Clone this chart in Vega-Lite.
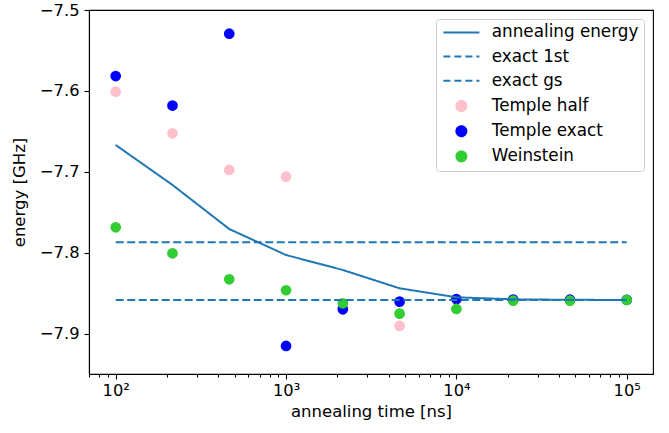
{
  "$schema": "https://vega.github.io/schema/vega-lite/v6.json",
  "width": 564,
  "height": 364,
  "autosize": {"type": "none"},
  "padding": {"left": 89, "top": 10, "right": 16, "bottom": 59},
  "background": "white",
  "config": {
    "font": "DejaVu Sans",
    "view": {"stroke": "black", "strokeWidth": 1.1},
    "axis": {
      "grid": false,
      "domainColor": "black",
      "domainWidth": 1.1,
      "tickColor": "black",
      "tickWidth": 1.1,
      "labelColor": "black",
      "titleColor": "black",
      "labelFont": "DejaVu Sans",
      "titleFont": "DejaVu Sans",
      "labelFontSize": 16.3,
      "titleFontSize": 16.5,
      "titleFontWeight": "normal"
    },
    "legend": {
      "labelFont": "DejaVu Sans",
      "labelFontSize": 16.8,
      "labelColor": "black"
    }
  },
  "data": {
    "values": [
      {"series": "Temple half", "t": 100, "e": -7.6009},
      {"series": "Temple half", "t": 215.443, "e": -7.6522},
      {"series": "Temple half", "t": 464.159, "e": -7.6975},
      {"series": "Temple half", "t": 1000, "e": -7.7058},
      {"series": "Temple half", "t": 2154.43, "e": -7.866},
      {"series": "Temple half", "t": 4641.59, "e": -7.890},
      {"series": "Temple half", "t": 10000, "e": -7.858},
      {"series": "Temple half", "t": 21544.3, "e": -7.858},
      {"series": "Temple half", "t": 46415.9, "e": -7.858},
      {"series": "Temple half", "t": 100000, "e": -7.858},
      {"series": "Temple exact", "t": 100, "e": -7.5815},
      {"series": "Temple exact", "t": 215.443, "e": -7.618},
      {"series": "Temple exact", "t": 464.159, "e": -7.5293},
      {"series": "Temple exact", "t": 1000, "e": -7.9148},
      {"series": "Temple exact", "t": 2154.43, "e": -7.8695},
      {"series": "Temple exact", "t": 4641.59, "e": -7.860},
      {"series": "Temple exact", "t": 10000, "e": -7.8568},
      {"series": "Temple exact", "t": 21544.3, "e": -7.8575},
      {"series": "Temple exact", "t": 46415.9, "e": -7.8577},
      {"series": "Temple exact", "t": 100000, "e": -7.8578},
      {"series": "Weinstein", "t": 100, "e": -7.7683},
      {"series": "Weinstein", "t": 215.443, "e": -7.8004},
      {"series": "Weinstein", "t": 464.159, "e": -7.8325},
      {"series": "Weinstein", "t": 1000, "e": -7.846},
      {"series": "Weinstein", "t": 2154.43, "e": -7.8621},
      {"series": "Weinstein", "t": 4641.59, "e": -7.8749},
      {"series": "Weinstein", "t": 10000, "e": -7.8691},
      {"series": "Weinstein", "t": 21544.3, "e": -7.8589},
      {"series": "Weinstein", "t": 46415.9, "e": -7.8589},
      {"series": "Weinstein", "t": 100000, "e": -7.858},
      {"series": "annealing energy", "t": 100, "e": -7.6667},
      {"series": "annealing energy", "t": 215.443, "e": -7.716},
      {"series": "annealing energy", "t": 464.159, "e": -7.7704},
      {"series": "annealing energy", "t": 1000, "e": -7.8025},
      {"series": "annealing energy", "t": 2154.43, "e": -7.821},
      {"series": "annealing energy", "t": 4641.59, "e": -7.8436},
      {"series": "annealing energy", "t": 10000, "e": -7.8547},
      {"series": "annealing energy", "t": 21544.3, "e": -7.8572},
      {"series": "annealing energy", "t": 46415.9, "e": -7.8578},
      {"series": "annealing energy", "t": 100000, "e": -7.858},
      {"series": "exact 1st", "t": 100, "e": -7.7868},
      {"series": "exact 1st", "t": 100000, "e": -7.7868},
      {"series": "exact gs", "t": 100, "e": -7.858},
      {"series": "exact gs", "t": 100000, "e": -7.858}
    ]
  },
  "encoding": {
    "x": {
      "field": "t",
      "type": "quantitative",
      "title": "annealing time [ns]",
      "scale": {"type": "log", "domain": [69.7, 142600], "nice": false, "zero": false},
      "axis": {
        "values": [70, 80, 90, 100, 200, 300, 400, 500, 600, 700, 800, 900, 1000, 2000, 3000, 4000, 5000, 6000, 7000, 8000, 9000, 10000, 20000, 30000, 40000, 50000, 60000, 70000, 80000, 90000, 100000],
        "labelExpr": "datum.value == 100 ? '10²' : datum.value == 1000 ? '10³' : datum.value == 10000 ? '10⁴' : datum.value == 100000 ? '10⁵' : ''",
        "labelOverlap": false,
        "labelFlush": false,
        "tickSize": {"condition": {"test": "indexof([100, 1000, 10000, 100000], datum.value) >= 0", "value": 5}, "value": 3},
        "labelPadding": 3,
        "titlePadding": 5
      }
    },
    "y": {
      "field": "e",
      "type": "quantitative",
      "title": "energy [GHz]",
      "scale": {"domain": [-7.9494, -7.5], "nice": false, "zero": false},
      "axis": {
        "values": [-7.5, -7.6, -7.7, -7.8, -7.9],
        "format": ".1f",
        "tickSize": 5,
        "labelPadding": 5,
        "titlePadding": 12
      }
    },
    "color": {
      "field": "series",
      "type": "nominal",
      "scale": {
        "domain": ["annealing energy", "exact 1st", "exact gs", "Temple half", "Temple exact", "Weinstein"],
        "range": ["#1f77b4", "#1f77b4", "#1f77b4", "#ffc0cb", "#0000ff", "#32cd32"]
      },
      "legend": {
        "title": null,
        "orient": "top-right",
        "offset": 9,
        "strokeColor": "#cccccc",
        "fillColor": "white",
        "cornerRadius": 3,
        "padding": 5,
        "rowPadding": 6.2,
        "symbolSize": 100,
        "symbolOffset": 12,
        "labelOffset": 22,
        "encode": {
          "symbols": {
            "update": {
              "shape": {"signal": "indexof(['annealing energy', 'exact 1st', 'exact gs'], datum.label) >= 0 ? 'M-3.6,0H3.6' : 'circle'"},
              "fill": {"signal": "datum.label == 'Temple half' ? '#ffc0cb' : datum.label == 'Temple exact' ? '#0000ff' : datum.label == 'Weinstein' ? '#32cd32' : 'transparent'"},
              "stroke": {"signal": "indexof(['annealing energy', 'exact 1st', 'exact gs'], datum.label) >= 0 ? '#1f77b4' : 'transparent'"},
              "strokeWidth": {"value": 2},
              "strokeDash": {"signal": "datum.label == 'exact 1st' || datum.label == 'exact gs' ? [7, 4] : [1, 0]"},
              "opacity": {"value": 1}
            }
          }
        }
      }
    }
  },
  "layer": [
    {
      "transform": [{"filter": "indexof(['Temple half', 'Temple exact', 'Weinstein'], datum.series) >= 0"}],
      "mark": {"type": "circle", "size": 115, "opacity": 1}
    },
    {
      "transform": [{"filter": "indexof(['annealing energy', 'exact 1st', 'exact gs'], datum.series) >= 0"}],
      "mark": {"type": "line", "strokeWidth": 2},
      "encoding": {
        "strokeDash": {
          "field": "series",
          "type": "nominal",
          "scale": {"domain": ["annealing energy", "exact 1st", "exact gs"], "range": [[1, 0], [8, 3.5], [8, 3.5]]},
          "legend": null
        }
      }
    }
  ]
}
